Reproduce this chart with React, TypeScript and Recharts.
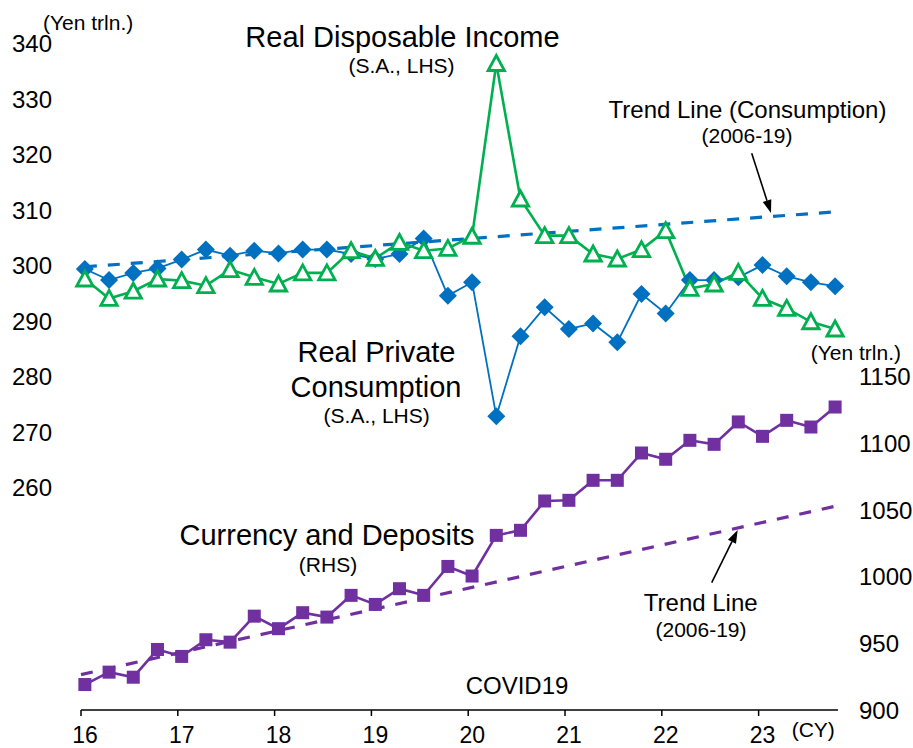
import React from "react";
import { ComposedChart, Line, XAxis, YAxis } from "recharts";

// quarterly observations, 2016Q1 - 2023Q4
const quarters = [
  "16Q1", "16Q2", "16Q3", "16Q4", "17Q1", "17Q2", "17Q3", "17Q4",
  "18Q1", "18Q2", "18Q3", "18Q4", "19Q1", "19Q2", "19Q3", "19Q4",
  "20Q1", "20Q2", "20Q3", "20Q4", "21Q1", "21Q2", "21Q3", "21Q4",
  "22Q1", "22Q2", "22Q3", "22Q4", "23Q1", "23Q2", "23Q3", "23Q4",
];

// Real private consumption (S.A., LHS, yen trln.)
const consumption = [
  299.4, 297.4, 298.7, 299.5, 301.1, 302.9, 301.8, 302.7,
  302.2, 302.9, 302.9, 302.1, 301.2, 302.1, 304.9, 294.6,
  297.0, 272.9, 287.3, 292.5, 288.6, 289.6, 286.2, 294.9,
  291.4, 297.4, 297.4, 297.9, 300.1, 298.1, 297.0, 296.3,
];

// Real disposable income (S.A., LHS, yen trln.)
const income = [
  297.6, 294.1, 295.4, 297.6, 297.3, 296.4, 299.3, 297.9,
  296.7, 298.7, 298.7, 302.7, 301.3, 304.2, 302.7, 303.1,
  305.3, 336.4, 312.0, 305.4, 305.4, 302.1, 301.2, 302.9,
  306.3, 295.9, 296.7, 298.8, 294.1, 292.3, 289.9, 288.6,
];

// Currency and deposits (RHS, yen trln.)
const deposits = [
  919.1, 928.4, 924.6, 945.4, 940.2, 952.7, 950.9, 970.4,
  961.0, 973.0, 969.7, 986.0, 979.2, 991.0, 986.0, 1007.7,
  1000.5, 1031.0, 1034.8, 1056.8, 1057.3, 1072.3, 1072.3, 1092.8,
  1088.1, 1102.3, 1099.3, 1116.1, 1105.3, 1117.3, 1112.3, 1127.3,
];

// trend lines (2006-19), start and end points
const consumptionTrend = [
  { t: 16.04, v: 299.8 },
  { t: 23.8, v: 309.7 },
];
const depositsTrend = [
  { t: 16.0, v: 926.5 },
  { t: 23.8, v: 1053.0 },
];

const yearTicks = [16, 17, 18, 19, 20, 21, 22, 23];
const leftTicks = [260, 270, 280, 290, 300, 310, 320, 330, 340];
const rightTicks = [900, 950, 1000, 1050, 1100, 1150];

const BLUE = "#0070C0";
const GREEN = "#00B050";
const PURPLE = "#7030A0";

// position of a quarter on the calendar-year axis
const quarterPos = (q: string) =>
  Number(q.slice(0, 2)) + (Number(q.slice(3)) - 1) / 4 + 0.04;

const rows = quarters.map((q, i) => ({
  t: quarterPos(q),
  consumption: consumption[i],
  income: income[i],
  deposits: deposits[i],
}));

const Diamond = ({ cx, cy }: any) => (
  <polygon
    points={`${cx},${cy - 9} ${cx + 9},${cy} ${cx},${cy + 9} ${cx - 9},${cy}`}
    fill={BLUE}
  />
);

const Triangle = ({ cx, cy }: any) => (
  <polygon
    points={`${cx},${cy - 8} ${cx + 8.2},${cy + 7} ${cx - 8.2},${cy + 7}`}
    fill="#fff"
    stroke={GREEN}
    strokeWidth={2.8}
    strokeLinejoin="miter"
  />
);

const Square = ({ cx, cy }: any) => (
  <rect x={cx - 6.5} y={cy - 6.5} width={13} height={13} fill={PURPLE} />
);

const Arrow = ({ x1, y1, x2, y2 }: { x1: number; y1: number; x2: number; y2: number }) => {
  const ang = Math.atan2(y2 - y1, x2 - x1);
  const len = 13;
  const half = 4.5;
  const bx = x2 - len * Math.cos(ang);
  const by = y2 - len * Math.sin(ang);
  const px = -Math.sin(ang) * half;
  const py = Math.cos(ang) * half;
  return (
    <g>
      <line x1={x1} y1={y1} x2={bx} y2={by} stroke="#000" strokeWidth={1.6} />
      <polygon
        points={`${x2},${y2} ${bx + px},${by + py} ${bx - px},${by - py}`}
        fill="#000"
      />
    </g>
  );
};

const big = { fontSize: 29 };
const mid = { fontSize: 24 };
const small = { fontSize: 21 };

export default function App() {
  return (
    <div
      style={{
        position: "relative",
        width: 913,
        height: 748,
        background: "#fff",
        fontFamily: '"Liberation Sans", Arial, sans-serif',
      }}
    >
      <style>{`body{margin:0}`}</style>
      <ComposedChart
        width={913}
        height={748}
        data={rows}
        margin={{ top: 43.5, right: 0, bottom: 0, left: 0 }}
      >
        <XAxis
          dataKey="t"
          type="number"
          domain={[16, 23.82]}
          ticks={yearTicks}
          interval={0}
          height={38}
          tickSize={6}
          tickMargin={11}
          axisLine={{ stroke: "#000", strokeWidth: 1.5 }}
          tickLine={{ stroke: "#000", strokeWidth: 1.5 }}
          tick={{ fill: "#000", fontSize: 23, dx: 4 }}
        />
        <YAxis
          yAxisId="left"
          domain={[220, 340]}
          ticks={leftTicks}
          interval={0}
          width={81}
          axisLine={false}
          tickLine={false}
          tickSize={6}
          tickMargin={23}
          tick={{ fill: "#000", fontSize: 24 }}
        />
        <YAxis
          yAxisId="right"
          orientation="right"
          domain={[900, 1400]}
          ticks={rightTicks}
          interval={0}
          width={75}
          axisLine={false}
          tickLine={false}
          tickSize={6}
          tickMargin={15}
          tick={{ fill: "#000", fontSize: 24, textAnchor: "start" }}
        />
        <Line
          yAxisId="left"
          data={consumptionTrend}
          dataKey="v"
          stroke={BLUE}
          strokeWidth={3.2}
          strokeDasharray="12 11"
          dot={false}
          activeDot={false}
          isAnimationActive={false}
        />
        <Line
          yAxisId="right"
          data={depositsTrend}
          dataKey="v"
          stroke={PURPLE}
          strokeWidth={3.2}
          strokeDasharray="12 11"
          dot={false}
          activeDot={false}
          isAnimationActive={false}
        />
        <Line
          yAxisId="left"
          dataKey="consumption"
          stroke={BLUE}
          strokeWidth={1.8}
          dot={(p: any) => <Diamond key={`d${p.index}`} {...p} />}
          activeDot={false}
          isAnimationActive={false}
        />
        <Line
          yAxisId="left"
          dataKey="income"
          stroke={GREEN}
          strokeWidth={2.6}
          dot={(p: any) => <Triangle key={`t${p.index}`} {...p} />}
          activeDot={false}
          isAnimationActive={false}
        />
        <Line
          yAxisId="right"
          dataKey="deposits"
          stroke={PURPLE}
          strokeWidth={2.6}
          dot={(p: any) => <Square key={`s${p.index}`} {...p} />}
          activeDot={false}
          isAnimationActive={false}
        />
      </ComposedChart>

      <svg
        width={913}
        height={748}
        style={{ position: "absolute", left: 0, top: 0, pointerEvents: "none" }}
      >
        <g fill="#000">
          <text x={43} y={29.5} {...small}>(Yen trln.)</text>
          <text x={402.5} y={46.5} textAnchor="middle" {...big}>Real Disposable Income</text>
          <text x={401.5} y={73} textAnchor="middle" {...small}>(S.A., LHS)</text>

          <text x={747.5} y={118} textAnchor="middle" {...mid}>Trend Line (Consumption)</text>
          <text x={747} y={143} textAnchor="middle" {...small}>(2006-19)</text>

          <text x={376.5} y={361.5} textAnchor="middle" {...big}>Real Private</text>
          <text x={376} y={396.5} textAnchor="middle" {...big}>Consumption</text>
          <text x={376.7} y={423} textAnchor="middle" {...small}>(S.A., LHS)</text>

          <text x={810.7} y={360} {...small}>(Yen trln.)</text>

          <text x={327} y={545} textAnchor="middle" {...big}>Currency and Deposits</text>
          <text x={328} y={571.5} textAnchor="middle" {...small}>(RHS)</text>

          <text x={700.7} y={611} textAnchor="middle" {...mid}>Trend Line</text>
          <text x={701} y={636.5} textAnchor="middle" {...small}>(2006-19)</text>

          <text x={517} y={694.3} textAnchor="middle" {...mid}>COVID19</text>
          <text x={791.7} y={737} {...small}>(CY)</text>
        </g>
        <Arrow x1={751.7} y1={153.3} x2={771} y2={213} />
        <Arrow x1={711.7} y1={582.7} x2={737.7} y2={530} />
      </svg>
    </div>
  );
}
